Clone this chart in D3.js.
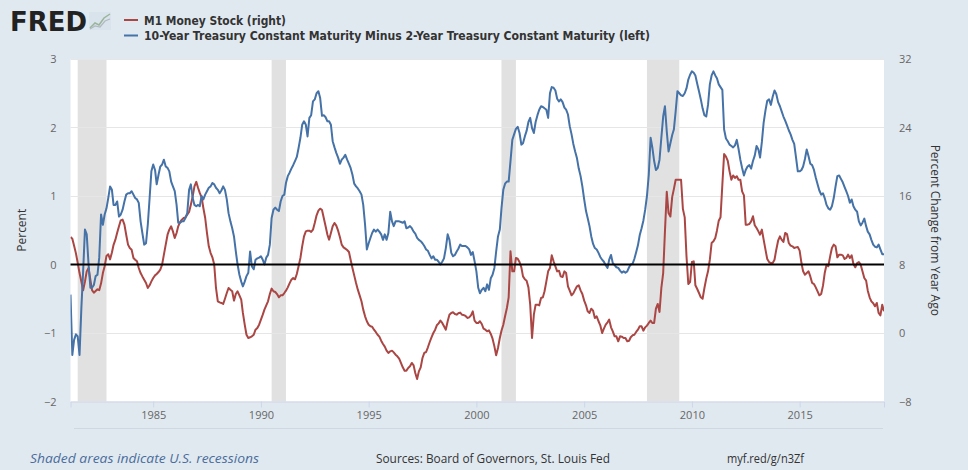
<!DOCTYPE html>
<html><head><meta charset="utf-8">
<script src="https://cdn.jsdelivr.net/npm/d3@7"></script>
<style>body{margin:0;background:#e1e9f0;} svg{display:block;}</style>
</head><body><svg id="c" width="968" height="470"></svg>
<script>
// ---- DATA (monthly, first value = March 1981) ----
const firstMonth = "1981-03-01";
const spreadValues = [
 -0.44,-1.32,-1.1,-1.02,-1.05,-1.32,-0.64,-0.1,0.51,0.44,
 0.0,-0.34,-0.34,-0.3,-0.17,-0.15,0.1,0.73,0.58,0.73,0.82,0.97,
 1.14,1.09,0.87,0.87,0.92,0.70,0.73,0.8,0.92,1.02,1.04,1.04,
 1.07,1.02,0.97,0.95,0.9,0.63,0.46,0.29,0.31,0.58,0.97,1.36,
 1.46,1.38,1.17,1.31,1.43,1.46,1.53,1.43,1.41,1.36,1.21,1.14,
 1.07,0.87,0.61,0.61,0.63,0.63,0.68,0.75,1.09,1.17,0.97,0.87,
 0.85,0.87,0.85,1.0,0.95,1.02,1.07,1.12,1.14,1.19,1.17,1.12,
 1.09,1.04,1.08,1.14,1.09,0.95,0.75,0.63,0.53,0.41,0.19,0.0,
 -0.15,-0.25,-0.32,-0.25,-0.17,-0.12,0.19,-0.03,-0.07,0.07,0.09,0.1,
 0.12,0.07,0.0,0.1,0.14,0.29,0.68,0.8,0.83,0.8,0.78,0.92,
 1.0,1.02,1.19,1.29,1.34,1.4,1.45,1.51,1.57,1.7,1.85,2.04,
 2.09,2.04,1.87,2.14,2.18,2.38,2.41,2.5,2.53,2.43,2.17,2.18,
 2.15,2.09,2.09,2.04,1.8,1.71,1.63,1.56,1.47,1.53,1.56,1.6,
 1.53,1.47,1.41,1.31,1.18,1.14,1.11,1.07,1.02,0.87,0.58,0.22,
 0.31,0.39,0.46,0.51,0.48,0.51,0.48,0.44,0.36,0.44,0.36,0.46,
 0.77,0.63,0.56,0.63,0.63,0.63,0.62,0.61,0.63,0.53,0.54,0.56,
 0.53,0.48,0.45,0.39,0.36,0.34,0.31,0.27,0.22,0.2,0.14,0.09,
 0.12,0.07,0.07,0.04,0.0,0.04,0.09,0.24,0.44,0.36,0.17,0.12,
 0.14,0.19,0.23,0.29,0.27,0.27,0.27,0.25,0.22,0.14,0.18,0.05,
 -0.1,-0.34,-0.42,-0.37,-0.34,-0.39,-0.29,-0.37,-0.2,-0.15,-0.05,0.19,
 0.41,0.51,0.82,1.09,1.18,1.21,1.21,1.51,1.82,1.9,1.98,2.01,
 1.92,1.75,1.77,1.87,1.95,2.08,2.14,1.99,1.92,2.08,2.18,2.26,
 2.31,2.3,2.28,2.26,2.14,2.5,2.59,2.58,2.54,2.42,2.38,2.41,
 2.37,2.29,2.26,2.19,2.02,1.9,1.76,1.65,1.55,1.4,1.29,1.14,
 0.95,0.78,0.68,0.56,0.41,0.3,0.24,0.22,0.17,0.11,0.07,0.04,
 -0.01,-0.05,0.07,0.14,0.02,-0.01,-0.04,-0.05,-0.09,-0.12,-0.1,-0.12,
 -0.1,-0.04,0.0,0.01,0.08,0.18,0.28,0.43,0.53,0.64,0.8,1.0,
 1.31,1.85,1.71,1.51,1.38,1.41,1.53,1.85,2.16,2.31,1.94,1.65,
 1.77,1.89,1.97,2.24,2.53,2.5,2.47,2.46,2.5,2.57,2.7,2.77,
 2.82,2.8,2.76,2.64,2.53,2.41,2.28,2.18,2.16,2.33,2.63,2.76,
 2.82,2.76,2.72,2.63,2.59,2.55,1.97,1.84,1.8,1.75,1.73,1.71,
 1.74,1.82,1.69,1.53,1.41,1.3,1.38,1.43,1.45,1.4,1.51,1.59,
 1.73,1.68,1.56,1.79,2.07,2.25,2.39,2.41,2.33,2.45,2.54,2.49,
 2.37,2.31,2.24,2.16,2.1,2.03,1.96,1.9,1.82,1.76,1.56,1.36,
 1.36,1.38,1.43,1.54,1.68,1.58,1.47,1.45,1.38,1.27,1.17,1.08,
 1.02,1.04,0.97,0.87,0.82,0.8,0.85,0.97,1.14,1.29,1.3,1.25,
 1.2,1.13,1.07,1.0,0.9,0.95,0.85,0.8,0.77,0.63,0.57,0.61,
 0.67,0.56,0.48,0.44,0.36,0.29,0.26,0.25,0.29,0.22,0.15,0.15
];
const m1Values = [
 11.2,11.0,10.2,9.3,8.2,7.0,6.0,5.0,6.0,7.2,
 7.6,6.2,5.0,4.7,4.9,5.1,5.0,5.8,7.0,7.8,9.0,9.2,
 8.6,9.4,10.3,10.9,11.7,12.46,13.16,13.24,12.65,11.48,10.32,9.93,
 9.73,8.76,8.56,8.37,7.59,7.0,6.61,6.23,5.84,5.26,5.57,6.03,
 6.42,6.73,6.89,7.12,7.4,7.98,9.15,10.32,11.48,12.07,12.46,11.87,
 11.1,11.68,12.46,12.96,13.24,13.43,13.51,13.82,14.13,14.99,15.96,17.13,
 17.65,16.94,16.36,15.85,14.6,13.43,11.68,10.12,9.34,8.84,8.0,5.26,
 3.7,3.58,3.51,3.39,4.0,4.67,5.26,5.06,4.87,3.78,4.55,4.87,
 4.4,3.89,2.34,0.97,-0.2,-0.58,-0.5,-0.39,-0.2,0.39,0.59,0.97,
 1.56,2.14,2.73,3.23,3.7,4.55,5.18,4.87,4.79,4.55,4.17,4.4,
 4.4,4.67,4.94,5.33,5.8,6.23,6.42,6.27,6.89,7.79,8.76,10.12,
 11.29,11.87,11.95,11.95,11.8,12.07,12.85,13.74,14.29,14.52,14.36,13.43,
 12.46,11.48,10.9,11.68,12.46,12.85,12.54,11.95,11.17,10.32,10.0,9.85,
 9.69,9.46,8.56,7.59,6.73,5.84,5.06,4.4,3.7,2.73,1.95,1.37,
 0.97,0.78,0.74,0.39,0.12,-0.2,-0.43,-0.9,-1.28,-1.59,-2.06,-2.33,
 -2.14,-2.06,-2.26,-2.53,-2.72,-3.0,-3.5,-4.01,-4.4,-4.4,-4.09,-3.89,
 -3.5,-3.78,-4.67,-5.37,-4.48,-4.01,-2.92,-2.33,-2.22,-1.67,-1.05,-0.5,
 0.0,0.39,0.9,1.13,1.44,1.17,0.78,0.39,1.37,2.14,2.34,2.42,
 2.22,2.14,2.3,2.38,2.14,2.1,1.99,1.76,1.83,2.06,2.53,1.44,
 1.17,1.17,1.37,1.05,0.51,0.39,0.2,0.31,-0.11,-0.66,-1.56,-2.61,
 -1.75,-0.58,0.27,0.97,1.95,2.92,4.17,9.54,7.2,7.2,8.76,8.68,
 8.29,7.67,6.61,6.27,6.11,5.33,3.31,-0.58,2.14,3.31,3.31,3.23,
 4.09,4.17,4.87,6.03,7.2,7.59,9.07,8.37,7.79,7.2,7.28,6.61,
 6.54,7.2,7.0,5.45,4.94,4.4,4.63,5.06,5.45,5.57,4.98,4.55,
 3.78,3.23,2.53,2.34,2.84,2.61,1.76,1.95,1.37,0.9,0.0,0.51,
 0.97,1.25,1.56,0.66,0.2,-0.39,-0.39,-0.97,-0.39,-0.43,-0.58,-0.58,
 -0.97,-0.9,-0.5,-0.27,-0.2,0.12,0.39,0.78,0.78,0.27,0.66,0.86,
 1.17,1.44,1.17,1.17,2.84,3.39,2.45,5.26,7.0,11.87,16.5,14.0,
 13.6,15.9,16.8,17.9,17.9,17.9,17.9,14.5,13.5,9.0,5.72,5.95,
 8.29,8.37,5.57,5.14,4.67,4.17,4.0,5.26,6.35,7.2,8.56,10.51,
 10.71,11.09,11.95,13.12,13.51,17.33,20.9,20.6,20.1,18.88,17.9,18.4,
 18.1,18.3,17.9,17.9,16.55,16.08,12.65,12.65,12.73,13.04,13.63,12.58,
 12.26,11.87,11.48,12.07,10.9,9.73,8.64,8.29,8.17,8.17,8.56,9.73,
 10.78,11.29,10.9,10.63,11.68,11.56,10.51,10.2,10.12,9.93,10.0,10.04,
 9.62,8.17,7.2,6.81,7.0,7.2,6.61,5.84,5.72,5.33,4.87,4.4,
 4.55,5.53,7.0,7.98,7.79,8.95,9.93,10.32,10.12,8.84,9.15,9.15,
 9.07,8.64,8.76,9.15,8.76,9.07,8.06,7.67,8.17,8.29,7.98,7.2,
 6.42,6.11,4.94,4.17,3.7,3.47,3.12,3.51,2.34,2.06,3.31,2.53
];
const recessions = [
 ["1981-07-01","1982-11-01"],
 ["1990-07-01","1991-03-01"],
 ["2001-03-01","2001-11-01"],
 ["2007-12-01","2009-06-01"]
];
const leftTicks = [-2,-1,0,1,2,3];
const rightTicks = [-8,0,8,16,24,32];
const xTickYears = [1985,1990,1995,2000,2005,2010,2015];
const legendNames = ["M1 Money Stock (right)",
  "10-Year Treasury Constant Maturity Minus 2-Year Treasury Constant Maturity (left)"];
const leftTitle = "Percent";
const rightTitle = "Percent Change from Year Ago";
const footNote = "Shaded areas indicate U.S. recessions";
const sourceNote = "Sources: Board of Governors, St. Louis Fed";
const linkNote = "myf.red/g/n3Zf";

// ---- LAYOUT ----
const W = 968, H = 470;
const plot = {l: 70.5, r: 884, t: 59, b: 401.5};
const blue = "#4572a7", red = "#aa4643";
const fontAxis = "'Open Sans','Liberation Sans',Arial,sans-serif";

const svg = d3.select("#c");
const parse = d3.timeParse("%Y-%m-%d");
const start = parse(firstMonth);
const dates = spreadValues.map((_, i) => d3.timeMonth.offset(start, i));
const spreadData = spreadValues.map((v, i) => ({d: dates[i], v}));
const m1Data = m1Values.map((v, i) => ({d: d3.timeMonth.offset(start, i), v}));

const x = d3.scaleTime().domain([start, dates[dates.length - 1]]).range([plot.l, plot.r]);
const yL = d3.scaleLinear().domain([-2, 3]).range([plot.b, plot.t]);
const yR = d3.scaleLinear().domain([-8, 32]).range([plot.b, plot.t]);

svg.append("rect").attr("width", W).attr("height", H).attr("fill", "#e1e9f0");

// plot background
svg.append("rect").attr("x", plot.l).attr("y", plot.t)
  .attr("width", plot.r - plot.l).attr("height", plot.b - plot.t).attr("fill", "#fff");

svg.append("defs").append("clipPath").attr("id", "clip")
  .append("rect").attr("x", plot.l).attr("y", plot.t - 2)
  .attr("width", plot.r - plot.l).attr("height", plot.b - plot.t + 4);

// recession bands
svg.append("g").selectAll("rect").data(recessions).join("rect")
  .attr("x", d => x(parse(d[0])))
  .attr("width", d => x(parse(d[1])) - x(parse(d[0])))
  .attr("y", plot.t).attr("height", plot.b - plot.t)
  .attr("fill", "#e1e1e1");

// gridlines
svg.append("g").selectAll("line").data(leftTicks.filter(t => t !== 0)).join("line")
  .attr("x1", plot.l).attr("x2", plot.r)
  .attr("y1", d => Math.round(yL(d)) + 0.5).attr("y2", d => Math.round(yL(d)) + 0.5)
  .attr("stroke", "#e6e6e6").attr("stroke-width", 1);

// left axis
const gL = svg.append("g").attr("transform", `translate(${plot.l - 14},0)`)
  .call(d3.axisLeft(yL).tickValues(leftTicks).tickSize(0).tickPadding(0).tickFormat(d3.format("d")));
gL.select(".domain").remove();
gL.selectAll("text").attr("font-family", fontAxis).attr("font-size", 11).attr("fill", "#666");

// right axis
const gR = svg.append("g").attr("transform", `translate(${plot.r + 15},0)`)
  .call(d3.axisRight(yR).tickValues(rightTicks).tickSize(0).tickPadding(0).tickFormat(d3.format("d")));
gR.select(".domain").remove();
gR.selectAll("text").attr("font-family", fontAxis).attr("font-size", 11).attr("fill", "#666");

// x axis
const gX = svg.append("g").attr("transform", `translate(0,${plot.b})`)
  .call(d3.axisBottom(x).tickValues(xTickYears.map(yr => new Date(yr, 0, 1)))
    .tickSize(6).tickPadding(4).tickFormat(d3.timeFormat("%Y")));
gX.select(".domain").attr("stroke", "#ccd6eb");
gX.selectAll(".tick line").attr("stroke", "#ccd6eb");
gX.selectAll("text").attr("font-family", fontAxis).attr("font-size", 11).attr("fill", "#666");

// navigator-like thin line
svg.append("line").attr("x1", 74).attr("x2", 883).attr("y1", 428.5).attr("y2", 428.5)
  .attr("stroke", "#cfd8e2").attr("stroke-width", 1);

// series
const gS = svg.append("g").attr("clip-path", "url(#clip)");
gS.append("path").datum(m1Data)
  .attr("d", d3.line().x(d => x(d.d)).y(d => yR(d.v)))
  .attr("fill", "none").attr("stroke", red).attr("stroke-width", 2).attr("stroke-linejoin", "round");
gS.append("path").datum(spreadData)
  .attr("d", d3.line().x(d => x(d.d)).y(d => yL(d.v)))
  .attr("fill", "none").attr("stroke", blue).attr("stroke-width", 2).attr("stroke-linejoin", "round");

// zero line
svg.append("line").attr("x1", plot.l).attr("x2", plot.r)
  .attr("y1", yL(0)).attr("y2", yL(0)).attr("stroke", "#000").attr("stroke-width", 2);

// axis titles
svg.append("text").attr("transform", `translate(25.5,${(plot.t + plot.b) / 2}) rotate(-90)`)
  .attr("text-anchor", "middle").attr("font-family", fontAxis).attr("font-size", 12)
  .attr("fill", "#333").text(leftTitle);
svg.append("text").attr("transform", `translate(931,${(plot.t + plot.b) / 2}) rotate(90)`)
  .attr("text-anchor", "middle").attr("font-family", fontAxis).attr("font-size", 12)
  .attr("fill", "#333").text(rightTitle);

// FRED logo
svg.append("text").attr("x", 10).attr("y", 31).attr("font-family", "'DejaVu Sans',sans-serif")
  .attr("font-weight", "bold").attr("font-size", 27).attr("fill", "#222")
  .attr("textLength", 77).attr("lengthAdjust", "spacingAndGlyphs").text("FRED");
const icon = svg.append("g").attr("transform", "translate(89,12)");
icon.append("rect").attr("width", 22).attr("height", 18).attr("fill", "#d9e3ec");
icon.append("polyline").attr("points", "1,16 6,11 10,13 15,6 21,2")
  .attr("fill", "none").attr("stroke", "#9ab59a").attr("stroke-width", 1.5);
icon.append("polyline").attr("points", "1,17 6,14 11,15 16,9 21,7")
  .attr("fill", "none").attr("stroke", "#b0b8c0").attr("stroke-width", 1.2);

// legend
const legY = [20, 35.5];
const legCol = [red, blue];
const legLen = [142, 506];
legendNames.forEach((nm, i) => {
  svg.append("line").attr("x1", 124).attr("x2", 138).attr("y1", legY[i]).attr("y2", legY[i])
    .attr("stroke", legCol[i]).attr("stroke-width", 2);
  svg.append("text").attr("x", 144).attr("y", legY[i] + 4.5)
    .attr("font-family", "'DejaVu Sans',sans-serif").attr("font-weight", "bold")
    .attr("font-size", 12).attr("fill", "#333")
    .attr("textLength", legLen[i]).attr("lengthAdjust", "spacingAndGlyphs").text(nm);
});

// footer
svg.append("text").attr("x", 30).attr("y", 463).attr("font-family", fontAxis)
  .attr("font-style", "italic").attr("font-size", 13).attr("fill", "#4a6d9c")
  .attr("textLength", 229).attr("lengthAdjust", "spacingAndGlyphs").text(footNote);
svg.append("text").attr("x", 376).attr("y", 463).attr("font-family", fontAxis)
  .attr("font-size", 12.5).attr("fill", "#333")
  .attr("textLength", 234).attr("lengthAdjust", "spacingAndGlyphs").text(sourceNote);
svg.append("text").attr("x", 727).attr("y", 463).attr("font-family", fontAxis)
  .attr("font-size", 12.5).attr("fill", "#333")
  .attr("textLength", 77).attr("lengthAdjust", "spacingAndGlyphs").text(linkNote);
</script></body></html>
